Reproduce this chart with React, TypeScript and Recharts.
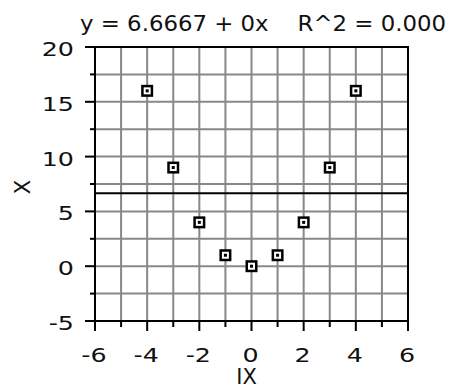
import { ScatterChart, Scatter, XAxis, YAxis, CartesianGrid, ReferenceLine, ReferenceArea, Label } from 'recharts'

const ixValues = [-4, -3, -2, -1, 0, 1, 2, 3, 4]
const xValues = [16, 9, 4, 1, 0, 1, 4, 9, 16]
const fitIntercept = 6.6667
const titleText = 'y = 6.6667 + 0x    R^2 = 0.000'

const xTicks = [-6, -5, -4, -3, -2, -1, 0, 1, 2, 3, 4, 5, 6]
const xLabelTicks = [-6, -4, -2, 0, 2, 4, 6]
const yTicks = [-5, -2.5, 0, 2.5, 5, 7.5, 10, 12.5, 15, 17.5, 20]
const yLabelTicks = [-5, 0, 5, 10, 15, 20]

const FONT = '"DejaVu Sans", Verdana, sans-serif'

const data = ixValues.map((ix, i) => ({ ix, x: xValues[i] }))

const fmt = (v: number) => (v < 0 ? '-' + Math.abs(v) : String(v))

// the original font has wide, round digits: stretch DejaVu sideways
const WideText = ({ x, y, anchor, children }: any) => (
  <text
    transform={`translate(${x} ${y}) scale(1.3 1)`}
    textAnchor={anchor}
    fontSize={19.5}
    fontFamily={FONT}
    fill="#111"
  >
    {children}
  </text>
)

const XTick = ({ x, y, payload }: any) => {
  const major = xLabelTicks.includes(payload.value)
  return (
    <g>
      <line x1={x} x2={x} y1={y} y2={y + (major ? 10 : 6)} stroke="#000" strokeWidth={2} />
      {major && (
        <WideText x={x - 1} y={y + 41} anchor="middle">
          {fmt(payload.value)}
        </WideText>
      )}
    </g>
  )
}

const YTick = ({ x, y, payload }: any) => {
  const major = yLabelTicks.includes(payload.value)
  return (
    <g>
      <line x1={x} x2={x - (major ? 10 : 5)} y1={y} y2={y} stroke="#000" strokeWidth={2} />
      {major && (
        <WideText x={x - 21} y={y + 9} anchor="end">
          {fmt(payload.value)}
        </WideText>
      )}
    </g>
  )
}

const Marker = ({ cx, cy }: any) => (
  <g>
    <rect x={cx - 4.75} y={cy - 4.75} width={9.5} height={9.5} fill="#fff" stroke="#000" strokeWidth={2.5} />
    <rect x={cx - 1.5} y={cy - 1.5} width={3} height={3} fill="#000" />
  </g>
)

const YLabel = ({ viewBox }: any) => {
  const cx = 22
  const cy = viewBox.y + viewBox.height / 2 + 3
  return (
    <text x={cx} y={cy} transform={`rotate(-90 ${cx} ${cy})`} textAnchor="middle" dy="0.36em" fontSize={21} fontFamily={FONT} fill="#111">
      X
    </text>
  )
}

const XLabel = ({ viewBox }: any) => (
  <text x={viewBox.x + viewBox.width / 2 - 5} y={384} textAnchor="middle" fontSize={21} fontFamily={FONT} fill="#111">
    IX
  </text>
)

const Title = ({ viewBox }: any) => (
  <text
    x={viewBox.x - 15}
    y={viewBox.y - 16}
    textLength={366}
    lengthAdjust="spacingAndGlyphs"
    xmlSpace="preserve"
    style={{ whiteSpace: 'pre' }}
    fontSize={22}
    fontFamily={FONT}
    fill="#111"
  >
    {titleText}
  </text>
)

export default function App() {
  return (
    <div style={{ position: 'absolute', left: 0, top: 0, background: '#fff' }}>
      <ScatterChart width={454} height={389} margin={{ top: 47, right: 46, bottom: 0, left: 0 }}>
        <CartesianGrid stroke="#888" strokeWidth={2} />
        <XAxis
          type="number"
          dataKey="ix"
          domain={[-6, 6]}
          ticks={xTicks}
          interval={0}
          height={68}
          tickSize={0}
          tickMargin={0}
          tickLine={false}
          axisLine={{ stroke: '#000', strokeWidth: 2 }}
          tick={<XTick />}
        >
          <Label content={<XLabel />} />
        </XAxis>
        <YAxis
          type="number"
          dataKey="x"
          domain={[-5, 20]}
          ticks={yTicks}
          interval={0}
          width={95}
          tickSize={0}
          tickMargin={0}
          tickLine={false}
          axisLine={{ stroke: '#000', strokeWidth: 2 }}
          tick={<YTick />}
        >
          <Label content={<YLabel />} />
        </YAxis>
        <ReferenceArea x1={-6} x2={6} y1={-5} y2={20} fill="none" stroke="#000" strokeWidth={2} fillOpacity={0}>
          <Label content={<Title />} />
        </ReferenceArea>
        <ReferenceLine y={fitIntercept} stroke="#000" strokeWidth={2} />
        <Scatter data={data} shape={<Marker />} isAnimationActive={false} />
      </ScatterChart>
    </div>
  )
}
